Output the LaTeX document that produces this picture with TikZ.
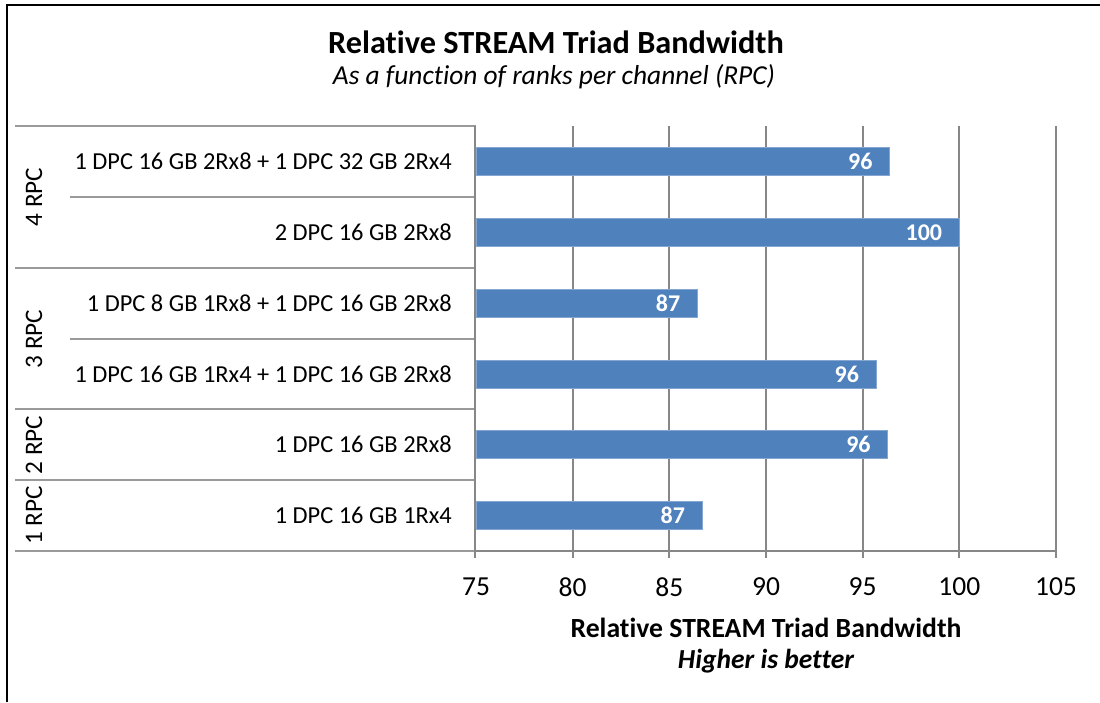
\documentclass[tikz,border=0pt]{standalone}
\usepackage{fontspec}
\setmainfont[Ligatures={NoCommon}]{Carlito}
\definecolor{barblue}{HTML}{4F81BD}
\definecolor{gridgray}{HTML}{878787}
\definecolor{rulegray}{HTML}{9A9A9A}

\begin{document}
\begin{tikzpicture}[x=1pt,y=-1pt,
  gridline/.style={draw=gridgray,line width=2pt},
  catline/.style={draw=rulegray,line width=1.6pt},
  bar/.style={fill=barblue,draw=barblue!70!white,line width=0.8pt},
  barlabel/.style={anchor=east,inner sep=0pt,text=white,font=\fontsize{24}{27}\selectfont\bfseries},
  sublabel/.style={anchor=east,inner sep=0pt,font=\fontsize{24.4}{28}\selectfont},
  grouplabel/.style={rotate=90,inner sep=0pt,font=\fontsize{25.2}{28}\selectfont},
  ticklabel/.style={inner sep=0pt,font=\fontsize{27.5}{31}\selectfont},
]
\useasboundingbox (0,0) rectangle (1100,703);

% frame (top and left edges only)
\draw[line width=1.6pt] (7,702) -- (7,5) -- (1100,5);

% titles
\node[inner sep=0pt,font=\fontsize{32.3}{36}\selectfont\bfseries] (title) at (556,42) {Relative STREAM Triad Bandwidth};
\node[inner sep=0pt,font=\fontsize{27.4}{31}\selectfont\itshape] (subtitle) at (554,77) {As a function of ranks per channel (RPC)};

% vertical gridlines with ticks below the value axis
\foreach \v in {80,85,...,105}{
  \pgfmathsetmacro{\gx}{476+(\v-75)*19.333}
  \draw[gridline] (\gx,126) -- (\gx,558);
}

% category separators
\draw[catline] (15,126) -- (476,126);
\draw[catline] (70,197) -- (476,197);
\draw[catline] (15,268) -- (476,268);
\draw[catline] (70,339) -- (476,339);
\draw[catline] (15,409) -- (476,409);
\draw[catline] (15,480) -- (476,480);
\draw[catline] (15,551) -- (476,551);

% bars with value labels
\foreach \i/\v/\lab in {0/96.4/96, 1/100/100, 2/86.45/87, 3/95.7/96, 4/96.3/96, 5/86.7/87}{
  \pgfmathsetmacro{\cy}{126+(\i+0.5)*70.83}
  \pgfmathsetmacro{\bx}{476+(\v-75)*19.333}
  \fill[bar] (476,\cy-14) rectangle (\bx,\cy+14);
  \node[barlabel] (val\i) at (\bx-17,\cy) {\lab};
}

% axes
\draw[gridline] (475,126) -- (475,558);
\draw[gridline] (474,551) -- (1057,551);

% value tick labels
\foreach \v in {75,80,...,105}{
  \pgfmathsetmacro{\gx}{476+(\v-75)*19.333}
  \node[ticklabel] (tick\v) at (\gx,587) {\v};
}

% category labels
\node[sublabel] (c0) at (452,161.4) {1 DPC 16 GB 2Rx8 + 1 DPC 32 GB 2Rx4};
\node[sublabel] (c1) at (452,232.2) {2 DPC 16 GB 2Rx8};
\node[sublabel] (c2) at (452,303.1) {1 DPC 8 GB 1Rx8 + 1 DPC 16 GB 2Rx8};
\node[sublabel] (c3) at (452,373.9) {1 DPC 16 GB 1Rx4 + 1 DPC 16 GB 2Rx8};
\node[sublabel] (c4) at (452,444.7) {1 DPC 16 GB 2Rx8};
\node[sublabel] (c5) at (452,515.6) {1 DPC 16 GB 1Rx4};

% group labels
\node[grouplabel] (g4) at (34,197) {4 RPC};
\node[grouplabel] (g3) at (34,339) {3 RPC};
\node[grouplabel] (g2) at (34,445) {2 RPC};
\node[grouplabel] (g1) at (34,515.6) {1 RPC};

% axis title
\node[inner sep=0pt,font=\fontsize{27.7}{31}\selectfont\bfseries] (axtitle) at (766,628) {Relative STREAM Triad Bandwidth};
\node[inner sep=0pt,font=\fontsize{27.5}{31}\selectfont\bfseries\itshape] (axnote) at (766,661) {Higher is better};
\end{tikzpicture}
\end{document}
